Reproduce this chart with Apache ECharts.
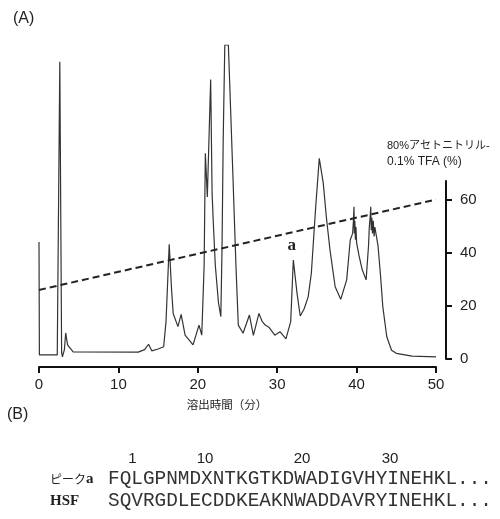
<!DOCTYPE html>
<html>
<head>
<meta charset="utf-8">
<script src="https://cdn.jsdelivr.net/npm/echarts@6/dist/echarts.min.js"></script>
<style>
html,body{margin:0;padding:0;background:#fff;}
#chart{width:500px;height:519px;}
</style>
</head>
<body>
<div id="chart"></div>
<script>
// Chromatogram trace (elution time in min, relative absorbance 0-100)
const timeMin = [0.00,0.05,2.30,2.35,2.62,2.85,2.95,3.20,3.36,3.60,4.30,12.5,13.3,13.8,14.2,15.0,15.7,16.0,16.4,16.7,16.9,17.5,17.9,18.4,19.4,20.15,20.5,20.8,20.95,21.2,21.62,21.8,21.95,22.2,22.6,22.9,23.05,23.2,23.4,23.85,24.05,24.4,24.8,25.1,25.7,26.5,27.0,27.7,28.1,28.5,29.0,29.7,30.35,31.1,31.7,32.03,32.5,32.9,33.4,33.9,34.3,34.85,35.3,35.8,36.2,36.65,37.3,38.0,38.75,39.2,39.5,39.6,39.67,39.72,39.78,39.85,39.92,40.0,40.3,40.7,41.2,41.5,41.6,41.7,41.78,41.85,41.92,42.0,42.1,42.2,42.3,42.7,43.0,43.3,43.8,44.4,45.0,47.0,50.0];
const absorbance = [37.3,1.3,1.3,1.3,94.7,2.0,0.7,3.0,8.3,4.5,2.3,2.2,3.0,4.7,2.6,3.2,3.9,12.0,36.5,22.0,14.5,10.3,14.2,7.6,4.5,10.8,7.6,30.0,65.5,51.6,89.0,52.9,43.6,30.0,18.0,13.5,35.0,70.0,100,100,100,60.0,30.0,10.8,8.2,14.0,7.5,14.5,12.0,10.8,10.0,7.6,8.7,6.4,11.9,31.5,20.9,13.7,16.0,19.8,27.3,48.5,63.9,56.0,45.0,34.7,23.0,19.0,25.2,37.9,40.0,44.0,48.5,40.0,44.0,38.0,42.0,37.0,33.0,28.5,25.2,36.0,42.0,45.0,48.5,41.0,45.0,40.0,44.0,39.0,42.0,36.0,27.0,16.7,7.1,2.8,1.8,0.9,0.7];

// Gradient: 80% acetonitrile-0.1% TFA (%)
const gradientTime = [0, 50];
const gradientPct = [26, 60];

// Axis ticks
const xTicks = [0, 10, 20, 30, 40, 50];
const rightTicks = [0, 20, 40, 60];

// Peak annotation
const peakA = [32.03, 31.5];

// Sequence panel (B)
const seqPositions = ['1', '10', '20', '30'];
const seqNames = ['ピーク', 'HSF'];
const seqPeakA = 'FQLGPNMDXNTKGTKDWADIGVHYINEHKL...';
const seqHSF = 'SQVRGDLECDDKEAKNWADDAVRYINEHKL...';

const sans = 'Liberation Sans, Arial, Noto Sans CJK JP, sans-serif';
const jp = 'Noto Sans CJK JP, sans-serif';

const chart = echarts.init(document.getElementById('chart'), null, {renderer: 'canvas'});

const posX = [132.5, 205, 302, 390];

const option = {
  animation: false,
  backgroundColor: '#fff',
  grid: [
    {left: 39, right: 64, top: 45, bottom: 160},
    {left: 39, right: 64, top: 181, bottom: 160}
  ],
  xAxis: [
    {
      gridIndex: 0, type: 'value', min: 0, max: 50, interval: 10, offset: 8,
      axisLine: {show: true, onZero: false, lineStyle: {color: '#111', width: 2}},
      axisTick: {show: true, length: 6, lineStyle: {color: '#111', width: 2}},
      axisLabel: {color: '#222', fontSize: 15, fontFamily: sans, margin: 10},
      splitLine: {show: false}
    },
    {gridIndex: 1, type: 'value', min: 0, max: 50, show: false}
  ],
  yAxis: [
    {gridIndex: 0, type: 'value', min: 0, max: 100, show: false},
    {
      gridIndex: 1, type: 'value', min: 0, max: 67, interval: 20, position: 'right', offset: 10,
      axisLine: {show: true, onZero: false, lineStyle: {color: '#111', width: 2}},
      axisTick: {show: true, length: 6, lineStyle: {color: '#111', width: 2}, customValues: rightTicks},
      axisLabel: {color: '#222', fontSize: 15, fontFamily: sans, margin: 14, customValues: rightTicks},
      splitLine: {show: false}
    }
  ],
  series: [
    {
      type: 'line', xAxisIndex: 0, yAxisIndex: 0,
      data: timeMin.map((t, i) => [t, absorbance[i]]),
      symbol: 'none', smooth: false,
      lineStyle: {color: '#333', width: 1.2},
      markPoint: {
        symbol: 'circle', symbolSize: 0,
        data: [{coord: peakA, value: 'a'}],
        label: {show: true, formatter: 'a', position: 'inside', offset: [-1.5, -14],
                color: '#222', fontSize: 17, fontWeight: 'bold', fontFamily: 'Liberation Serif, serif'}
      }
    },
    {
      type: 'line', xAxisIndex: 1, yAxisIndex: 1,
      data: gradientTime.map((t, i) => [t, gradientPct[i]]),
      symbol: 'none',
      lineStyle: {color: '#222', width: 2, type: [7, 4]}
    }
  ],
  graphic: [
    {type: 'text', x: 13, y: 19, style: {text: '(A)', fontSize: 16, fontFamily: sans, fill: '#222', textVerticalAlign: 'middle'}},
    {type: 'text', x: 387, y: 146, style: {text: '80%アセトニトリル-', fontSize: 11, fontFamily: sans, fill: '#222', textVerticalAlign: 'middle'}},
    {type: 'text', x: 387, y: 162, style: {text: '0.1% TFA (%)', fontSize: 12, fontFamily: sans, fill: '#222', textVerticalAlign: 'middle'}},
    {type: 'text', x: 227, y: 405, style: {text: '溶出時間（分）', fontSize: 11.5, fontFamily: jp, fill: '#222', textAlign: 'center', textVerticalAlign: 'middle'}},
    {type: 'text', x: 7, y: 415, style: {text: '(B)', fontSize: 16, fontFamily: sans, fill: '#222', textVerticalAlign: 'middle'}}
  ].concat(seqPositions.map((p, i) => ({
    type: 'text', x: posX[i], y: 459,
    style: {text: p, fontSize: 15, fontFamily: sans, fill: '#222', textAlign: 'center', textVerticalAlign: 'middle'}
  }))).concat([
    {type: 'text', x: 50, y: 479, style: {
      text: '{k|' + seqNames[0] + '}{a|a}',
      rich: {k: {fontSize: 12, fontFamily: jp, fill: '#222'}, a: {fontSize: 15, fontWeight: 'bold', fontFamily: 'Liberation Serif, serif', fill: '#222'}},
      textVerticalAlign: 'middle'}},
    {type: 'text', x: 50, y: 501, style: {text: seqNames[1], fontSize: 15, fontWeight: 'bold', fontFamily: 'Liberation Serif, serif', fill: '#222', textVerticalAlign: 'middle'}},
    {type: 'text', x: 108, y: 479, style: {text: seqPeakA, fontSize: 19.4, fontFamily: 'Liberation Mono, monospace', fill: '#333', textVerticalAlign: 'middle'}},
    {type: 'text', x: 108, y: 501, style: {text: seqHSF, fontSize: 19.4, fontFamily: 'Liberation Mono, monospace', fill: '#333', textVerticalAlign: 'middle'}}
  ])
};
chart.setOption(option);
</script>
</body>
</html>
